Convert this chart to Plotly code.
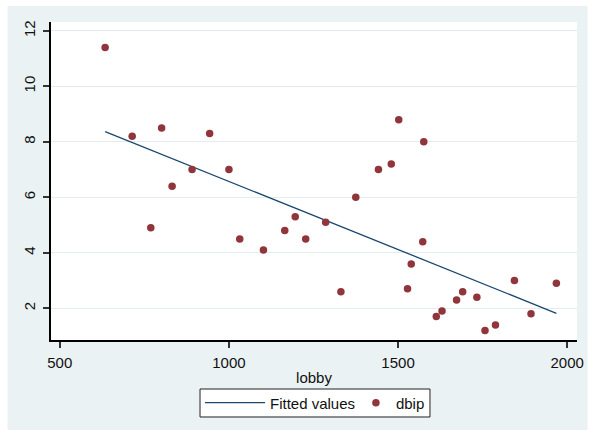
import plotly.graph_objects as go

# Scatter data
lobby = [634, 714, 801, 943, 891, 1000, 832, 769, 1032, 1102, 1165, 1196,
         1227, 1286, 1331, 1375, 1442, 1480, 1502, 1576, 1573, 1539, 1528,
         1613, 1630, 1673, 1691, 1733, 1757, 1788, 1844, 1893, 1968]
dbip = [11.4, 8.2, 8.5, 8.3, 7.0, 7.0, 6.4, 4.9, 4.5, 4.1, 4.8, 5.3,
        4.5, 5.1, 2.6, 6.0, 7.0, 7.2, 8.8, 8.0, 4.4, 3.6, 2.7,
        1.7, 1.9, 2.3, 2.6, 2.4, 1.2, 1.4, 3.0, 1.8, 2.9]

# Fitted line endpoints
fit_x = [634, 1968]
fit_y = [8.37, 1.82]

x_ticks = [500, 1000, 1500, 2000]
y_ticks = [2, 4, 6, 8, 10, 12]

NAVY = "#1A476F"
MAROON = "#90353B"
BG = "#EAF2F3"
FONT = "Liberation Sans, Arial, sans-serif"

fig = go.Figure()
fig.add_trace(go.Scatter(x=fit_x, y=fit_y, mode="lines", name="Fitted values",
                         line=dict(color=NAVY, width=1.3), legend="legend"))
fig.add_trace(go.Scatter(x=lobby, y=dbip, mode="markers", name="dbip",
                         marker=dict(color=MAROON, size=7.5, line=dict(width=0)),
                         legend="legend2"))

leg_y = -0.198
fig.update_layout(
    width=593, height=430,
    margin=dict(l=51, r=9, t=22, b=90),
    paper_bgcolor="white",
    plot_bgcolor="white",
    font=dict(family=FONT, size=15, color="#111111"),
    showlegend=True,
    legend=dict(orientation="h", x=0.2833, xanchor="left", y=leg_y, yanchor="middle",
                bgcolor="rgba(0,0,0,0)", borderwidth=0,
                font=dict(size=15), itemwidth=60),
    legend2=dict(orientation="h", x=0.5797, xanchor="left", y=leg_y, yanchor="middle",
                 bgcolor="rgba(0,0,0,0)", borderwidth=0,
                 font=dict(size=15), itemwidth=30),
    shapes=[
        dict(type="rect", xref="paper", yref="paper", x0=-0.0826, x1=1.02,
             y0=-0.29, y1=1.050, fillcolor=BG, line=dict(width=0), layer="below"),
        dict(type="rect", xref="paper", yref="paper", x0=0, x1=1,
             y0=0, y1=1, fillcolor="white", line=dict(width=0), layer="below"),
        dict(type="rect", xref="paper", yref="paper", x0=0.2833, x1=0.7205,
             y0=-0.2421, y1=-0.1541, fillcolor="white",
             line=dict(color="#222222", width=1), layer="above"),
    ],
)

fig.update_xaxes(range=[474, 2029], tickvals=x_ticks, ticks="outside", ticklen=6,
                 tickcolor="#333333", tickwidth=1.5, showline=True, linecolor="black",
                 linewidth=1.5, showgrid=False, zeroline=False, ticklabelstandoff=2,
                 title=dict(text="lobby", standoff=3, font=dict(size=15)),
                 tickfont=dict(size=15))
fig.update_yaxes(range=[0.857, 12.32], tickvals=y_ticks, ticks="outside", ticklen=6,
                 tickcolor="#333333", tickwidth=1.5, showline=True, linecolor="black",
                 linewidth=1.5, showgrid=True, gridcolor="#E3ECEF", gridwidth=1,
                 zeroline=False, tickangle=-90, tickfont=dict(size=15),
                 ticklabelstandoff=2)

fig.write_html("out.html")
